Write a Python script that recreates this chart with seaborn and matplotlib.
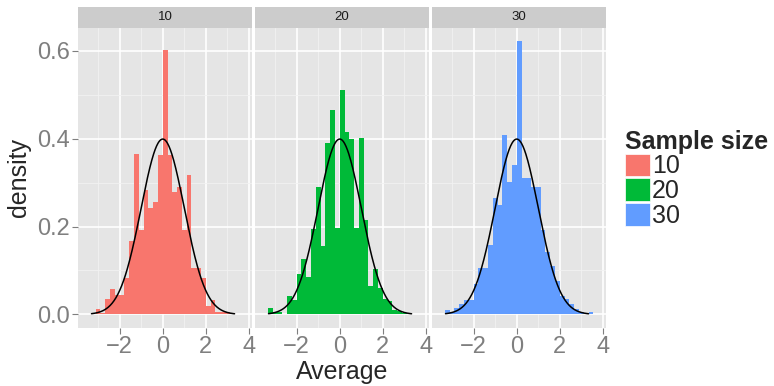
import numpy as np
import pandas as pd
import matplotlib
matplotlib.use("Agg")
import matplotlib.pyplot as plt
from matplotlib.patches import Patch, Rectangle
import seaborn as sns

# bin layout (left edges are k * binwidth)
binwidth = 0.222
bin_k = np.arange(-16, 17)

sample_sizes = ["10", "20", "30"]
colors = ["#F8766D", "#00BA38", "#619CFF"]

# histogram densities, one value per bin
density_10 = [0.0, 0.0, 0.013, 0.003, 0.036, 0.059, 0.045, 0.045, 0.083, 0.168,
              0.366, 0.191, 0.282, 0.241, 0.255, 0.362, 0.602, 0.363, 0.278, 0.291,
              0.191, 0.318, 0.105, 0.105, 0.083, 0.019, 0.032, 0.005, 0.005, 0.005,
              0.003, 0.002, 0.002]
density_20 = [0.0, 0.014, 0.005, 0.005, 0.0, 0.041, 0.032, 0.091, 0.127, 0.086,
              0.195, 0.291, 0.155, 0.389, 0.466, 0.196, 0.511, 0.416, 0.398, 0.197,
              0.402, 0.214, 0.064, 0.104, 0.060, 0.036, 0.030, 0.011, 0.008, 0.003,
              0.002, 0.0, 0.0]
density_30 = [0.002, 0.009, 0.005, 0.014, 0.023, 0.032, 0.032, 0.069, 0.105, 0.105,
              0.159, 0.264, 0.250, 0.408, 0.301, 0.339, 0.621, 0.310, 0.310, 0.291,
              0.291, 0.191, 0.142, 0.110, 0.077, 0.043, 0.036, 0.023, 0.013, 0.005,
              0.002, 0.005, 0.001]
densities = [density_10, density_20, density_30]

x_ticks = [-2, 0, 2, 4]
y_ticks = [0.0, 0.2, 0.4, 0.6]

sns.set_theme(style="dark")
plt.rcParams["font.family"] = ["Liberation Sans", "DejaVu Sans"]

edges = np.append(bin_k, bin_k[-1] + 1) * binwidth
centers = (edges[:-1] + edges[1:]) / 2
x_pad = (edges[-1] - edges[0]) * 0.05
ymax = max(max(d) for d in densities)

# theoretical N(0,1) curve drawn over each panel
curve_x = np.linspace(-3.3, 3.33, 300)
curve_y = np.exp(-curve_x ** 2 / 2) / np.sqrt(2 * np.pi)

fig, axes = plt.subplots(1, 3, figsize=(7.74, 3.86), dpi=100, sharey=True)
fig.subplots_adjust(left=0.101, right=0.783, bottom=0.150, top=0.928, wspace=0.018)

for ax, label, dens, col in zip(axes, sample_sizes, densities, colors):
    ax.set_facecolor("#E5E5E5")
    ax.set_xlim(edges[0] - x_pad, edges[-1] + x_pad)
    ax.set_ylim(-0.05 * ymax, 1.05 * ymax)
    ax.set_xticks([-3, -1, 1, 3], minor=True)
    ax.set_yticks([0.1, 0.3, 0.5], minor=True)
    ax.grid(which="minor", color="#F2F2F2", linewidth=0.6)
    ax.grid(which="major", color="white", linewidth=1.2)
    ax.set_axisbelow(True)
    df = pd.DataFrame({"center": centers, "density": dens})
    sns.histplot(data=df, x="center", weights="density", bins=len(centers),
                 binrange=(edges[0], edges[-1]), ax=ax, color=col,
                 alpha=1, linewidth=0, edgecolor=col)
    sns.lineplot(x=curve_x, y=curve_y, ax=ax, color="black", linewidth=1.1)
    ax.set_xticks(x_ticks)
    ax.set_xticklabels([f"{t:g}".replace("-", "\u2212") for t in x_ticks])
    ax.set_yticks(y_ticks)
    ax.set_xlabel("")
    ax.set_ylabel("")
    for s in ax.spines.values():
        s.set_visible(False)
    ax.tick_params(axis="both", which="major", labelsize=17, labelcolor="#7F7F7F",
                   color="#7F7F7F", length=4, width=0.8, bottom=True, left=True, pad=2)
    ax.tick_params(which="minor", length=0)
    # facet strip
    ax.add_patch(Rectangle((0, 1), 1, 0.069, transform=ax.transAxes,
                           facecolor="#CCCCCC", edgecolor="none", clip_on=False))
    ax.text(0.5, 1.0345, label, transform=ax.transAxes, ha="center", va="center",
            fontsize=9.5, color="#1A1A1A")

axes[0].set_yticklabels([f"{t:.1f}" for t in y_ticks])
for ax in axes[1:]:
    ax.tick_params(axis="y", left=False, labelleft=False)

fig.text(0.442, 0.036, "Average", ha="center", va="center", fontsize=18)
fig.text(0.024, 0.539, "density", ha="center", va="center", rotation=90, fontsize=18)

handles = [Patch(facecolor=c, edgecolor="white", linewidth=0.5) for c in colors]
leg = fig.legend(handles, sample_sizes, loc="upper left", bbox_to_anchor=(0.807, 0.664),
                 frameon=False, fontsize=18, title="Sample size",
                 title_fontproperties={"weight": "bold", "size": 18},
                 handlelength=1.0, handleheight=1.0, labelspacing=0.0,
                 handletextpad=0.1, borderaxespad=0, borderpad=0)
leg._legend_box.align = "left"

fig.savefig("out.png", dpi=100)
